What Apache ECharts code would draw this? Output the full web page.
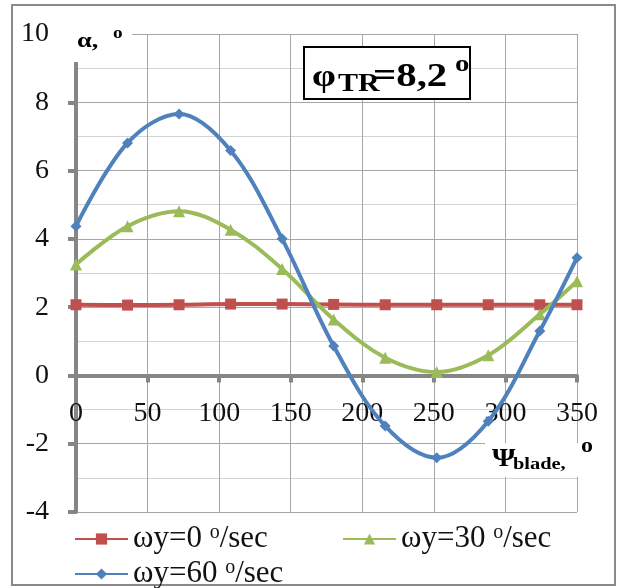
<!DOCTYPE html>
<html><head><meta charset="utf-8">
<script src="https://cdn.jsdelivr.net/npm/echarts@6/dist/echarts.min.js"></script>
<style>html,body{margin:0;padding:0;background:#fff}#c{width:617px;height:588px}</style>
</head><body><div id="c"></div>
<script>
// Data
const psi = [0, 36, 72, 108, 144, 180, 216, 252, 288, 324, 350];
const alphaW0  = [2.07, 2.06, 2.07, 2.09, 2.09, 2.08, 2.07, 2.07, 2.07, 2.07, 2.07];
const alphaW30 = [3.25, 4.37, 4.81, 4.27, 3.12, 1.64, 0.52, 0.10, 0.59, 1.79, 2.76];
const alphaW60 = [4.37, 6.81, 7.66, 6.59, 4.00, 0.86, -1.48, -2.41, -1.34, 1.30, 3.45];
const seriesNames = ['ωy=0', 'ωy=30', 'ωy=60'];
const unitText = '/sec';
const xAxisTitle = ['Ψ', 'blade,', 'o'];
const yAxisTitle = ['α,', 'o'];
const annotation = ['φ', 'TR', '=8,2', 'o'];
const X_MIN = 0, X_MAX = 350, X_STEP = 50;
const Y_MIN = -4, Y_MAX = 10, Y_STEP = 2;

const SERIF = '"Liberation Serif","Times New Roman",serif';
const C_RED = '#C0504D', C_GREEN = '#9BBB59', C_BLUE = '#4F81BD';
const W = 617, H = 588, G_TOP = 34, G_BOTTOM = 76;

const chart = echarts.init(document.getElementById('c'), null, {renderer: 'canvas'});

function pairs(ys) { return psi.map((x, i) => [x, ys[i]]); }

const legendRich = {
  m: {fontSize: 31, fontFamily: SERIF, color: '#111', lineHeight: 32},
  s: {fontSize: 20, fontFamily: SERIF, color: '#111', lineHeight: 20, padding: [0, 0, 12, 0], verticalAlign: 'top'}
};
function legendCfg(name, left, top) {
  return {
    data: [name], left: left, top: top, itemWidth: 53, itemHeight: 14, itemGap: 0,
    padding: 0, selectedMode: false,
    formatter: n => '{m|' + n + ' }{s|o}{m|' + unitText + '}',
    textStyle: {rich: legendRich, fontFamily: SERIF, fontSize: 31, color: '#111'}
  };
}

// text placed by its baseline (approx.), horizontally stretched like the reference
function txt(x, base, text, size, sx) {
  return {type: 'text', x: x, y: base - 0.32 * size, z: 101, scaleX: sx || 1.2,
    style: {text: text, font: 'bold ' + size + 'px ' + SERIF, fill: '#000', verticalAlign: 'middle', align: 'left'}};
}

const gridH = H - G_TOP - G_BOTTOM;
const xAxisOffset = -((0 - Y_MIN) / (Y_MAX - Y_MIN)) * gridH;

const option = {
  backgroundColor: '#fff',
  animation: false,
  grid: {left: 76, right: 40, top: G_TOP, bottom: G_BOTTOM, containLabel: false},
  xAxis: {
    type: 'value', min: X_MIN, max: X_MAX, interval: X_STEP, position: 'bottom', offset: xAxisOffset,
    axisLine: {show: true, onZero: false, lineStyle: {color: '#868686', width: 4}},
    axisTick: {show: true, inside: false, length: 7, lineStyle: {color: '#868686', width: 4}},
    axisLabel: {margin: 24, fontSize: 28, fontFamily: SERIF, color: '#111'},
    splitLine: {show: true, lineStyle: {color: '#a6a6a6', width: 1}}
  },
  yAxis: {
    type: 'value', min: Y_MIN, max: Y_MAX, interval: Y_STEP,
    axisLine: {show: true, onZero: false, lineStyle: {color: '#868686', width: 4}},
    axisTick: {show: true, inside: false, length: 8, lineStyle: {color: '#868686', width: 4}},
    axisLabel: {margin: 27, fontSize: 28, fontFamily: SERIF, color: '#111'},
    splitLine: {show: true, lineStyle: {color: '#a6a6a6', width: 1}},
    minorTick: {show: false, splitNumber: 2},
    minorSplitLine: {show: true, lineStyle: {color: '#d4d4d4', width: 1}}
  },
  legend: [legendCfg(seriesNames[0], 74, 523), legendCfg(seriesNames[1], 342, 523), legendCfg(seriesNames[2], 74, 558)],
  series: [
    {name: seriesNames[0], type: 'line', data: pairs(alphaW0), smooth: 0.35, symbol: 'rect', symbolSize: 11,
     lineStyle: {color: C_RED, width: 4}, itemStyle: {color: C_RED}, z: 3},
    {name: seriesNames[1], type: 'line', data: pairs(alphaW30), smooth: 0.35, symbol: 'triangle', symbolSize: 12,
     lineStyle: {color: C_GREEN, width: 4}, itemStyle: {color: C_GREEN}, z: 4},
    {name: seriesNames[2], type: 'line', data: pairs(alphaW60), smooth: 0.35, symbol: 'diamond', symbolSize: 11,
     lineStyle: {color: C_BLUE, width: 4}, itemStyle: {color: C_BLUE}, z: 5}
  ],
  graphic: {
    z: 50,
    elements: [
      {type: 'rect', shape: {x: 12, y: 5, width: 603, height: 580}, style: {fill: 'none', stroke: '#8a8a8a', lineWidth: 2}, z: 0, silent: true},
      // y-axis title box
      {type: 'rect', shape: {x: 68, y: 27, width: 64, height: 35}, style: {fill: '#fff'}, z: 100, silent: true},
      txt(77, 48, yAxisTitle[0], 22),
      txt(113, 39, yAxisTitle[1], 16),
      // x-axis title box
      {type: 'rect', shape: {x: 485, y: 443, width: 114, height: 34}, style: {fill: '#fff'}, z: 100, silent: true},
      txt(492, 468, xAxisTitle[0], 25),
      txt(513, 470, xAxisTitle[1], 17),
      txt(581, 453, xAxisTitle[2], 20),
      // annotation box
      {type: 'rect', shape: {x: 304, y: 47, width: 166, height: 52}, style: {fill: '#fff', stroke: '#000', lineWidth: 2}, z: 100, silent: true},
      txt(312, 88, annotation[0], 32),
      txt(338, 93, annotation[1], 25),
      txt(373, 88, annotation[2], 34),
      txt(455, 72, annotation[3], 24)
    ]
  }
};
chart.setOption(option);
</script>
</body></html>
